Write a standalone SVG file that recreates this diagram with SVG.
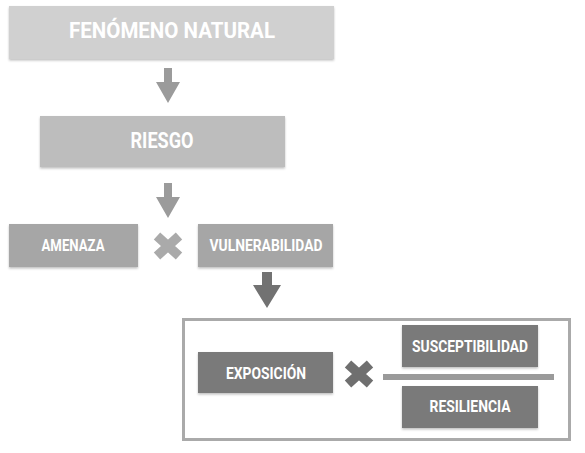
<svg xmlns="http://www.w3.org/2000/svg" width="585" height="453" viewBox="0 0 585 453">
<style>
.t{font-family:Roboto,"Liberation Sans",sans-serif;font-weight:bold;fill:#fff;text-anchor:middle}
.big{font-size:22px}
.sm{font-size:16px}
.md{font-size:17px}
</style>
<defs>
<filter id="sh" x="-5%" y="-10%" width="110%" height="130%">
<feDropShadow dx="0" dy="1.5" stdDeviation="1" flood-color="#000" flood-opacity="0.25"/>
</filter>
</defs>
<rect width="585" height="453" fill="#fff"/>
<g id="connectors">
<path d="M164 68H172V82H180L168 103L156 82H164Z" fill="#9b9b9b"/>
<path d="M164 183H172V197H180L168 218L156 197H164Z" fill="#9b9b9b"/>
<path d="M262 272H272V285H281L267 308L253 285H262Z" fill="#727272"/>
<path d="M157 236L179 256M179 236L157 256" stroke="#aaaaaa" stroke-width="9.5"/>
<path d="M348 364L370 384M370 364L348 384" stroke="#6f6f6f" stroke-width="9.5"/>
<rect x="383" y="374" width="171" height="6" fill="#9a9a9a"/>
</g>
<g id="fenomeno">
<rect x="9" y="6" width="325" height="53" fill="#d0d0d0" filter="url(#sh)"/>
<text class="t big" x="172" y="38" textLength="206" lengthAdjust="spacingAndGlyphs">FENÓMENO NATURAL</text>
</g>
<g id="riesgo">
<rect x="40" y="116" width="245" height="51" fill="#bdbdbd" filter="url(#sh)"/>
<text class="t big" x="162" y="148" textLength="63" lengthAdjust="spacingAndGlyphs">RIESGO</text>
</g>
<g id="amenaza">
<rect x="9" y="224" width="129" height="43" fill="#a6a6a6" filter="url(#sh)"/>
<text class="t sm" x="73" y="251" textLength="63" lengthAdjust="spacingAndGlyphs">AMENAZA</text>
</g>
<g id="vulnerabilidad">
<rect x="198" y="224" width="135" height="43" fill="#a6a6a6" filter="url(#sh)"/>
<text class="t sm" x="266" y="251" textLength="113" lengthAdjust="spacingAndGlyphs">VULNERABILIDAD</text>
</g>
<g id="grupo">
<rect x="183.5" y="319.5" width="386" height="120" fill="none" stroke="#aaaaaa" stroke-width="3"/>
</g>
<g id="exposicion">
<rect x="198" y="352" width="135" height="41" fill="#7a7a7a" filter="url(#sh)"/>
<text class="t md" x="266" y="379" textLength="80" lengthAdjust="spacingAndGlyphs">EXPOSICIÓN</text>
</g>
<g id="susceptibilidad">
<rect x="402" y="325" width="136" height="42" fill="#7a7a7a" filter="url(#sh)"/>
<text class="t md" x="470" y="352" textLength="116" lengthAdjust="spacingAndGlyphs">SUSCEPTIBILIDAD</text>
</g>
<g id="resiliencia">
<rect x="402" y="386" width="136" height="42" fill="#7a7a7a" filter="url(#sh)"/>
<text class="t md" x="470" y="412" textLength="81" lengthAdjust="spacingAndGlyphs">RESILIENCIA</text>
</g>
</svg>
